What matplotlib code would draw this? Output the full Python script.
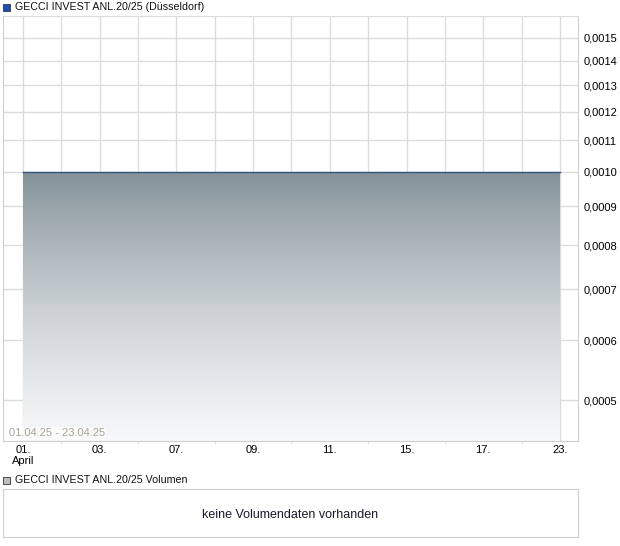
import numpy as np
import matplotlib
matplotlib.use("Agg")
import matplotlib.pyplot as plt
from matplotlib.ticker import FixedLocator, FuncFormatter, NullLocator

plt.rcParams['font.family'] = ['Liberation Sans', 'DejaVu Sans']

# trading days of April 2025 (Düsseldorf)
days = ["01.", "02.", "03.", "04.", "07.", "08.", "09.", "10.", "11.",
        "14.", "15.", "16.", "17.", "22.", "23."]
prices = [0.0010] * 15
ytick_vals = [0.0005, 0.0006, 0.0007, 0.0008, 0.0009, 0.0010,
              0.0011, 0.0012, 0.0013, 0.0014, 0.0015]
title = "GECCI INVEST ANL.20/25 (Düsseldorf)"
vol_title = "GECCI INVEST ANL.20/25 Volumen"
range_text = "01.04.25 - 23.04.25"

W, H = 620, 546
fig = plt.figure(figsize=(W / 100, H / 100), dpi=100)

grid_c = "#dcdcdc"
frame_c = "#cfcfcf"

# --- price chart ---
ax = fig.add_axes([3 / W, (H - 441) / H, 575 / W, 425 / H])
x = np.arange(len(days))
ax.set_yscale("log")
ymin, ymax = 0.000442, 0.001603
ax.set_ylim(ymin, ymax)
ax.set_xlim(-0.52, 14.47)

poly = ax.fill_between(x, prices, ymin, color="none", lw=0)
grad = np.linspace(0, 1, 256).reshape(-1, 1)
top_c = np.array([131, 145, 153]) / 255
bot_c = np.array([247, 248, 249]) / 255
img = top_c[None, None, :] * (1 - grad[:, :, None]) + bot_c[None, None, :] * grad[:, :, None]
im = ax.imshow(img, extent=[x[0], x[-1], ymin, max(prices)], aspect="auto",
               origin="upper", zorder=1, interpolation="bilinear")
im.set_clip_path(poly.get_paths()[0], transform=ax.transData)
ax.plot(x, prices, color="#34527e", lw=1.0, zorder=3)

ax.set_xticks(x, minor=True)
ax.set_xticks(x[::2])
labels = [d if i else d + "\nApril" for i, d in enumerate(days[::2])]
ax.set_xticklabels(labels, fontsize=8, linespacing=1.1)
ax.grid(True, which="both", axis="x", color=grid_c, lw=1, zorder=0)
ax.yaxis.set_major_locator(FixedLocator(ytick_vals))
ax.yaxis.set_minor_locator(NullLocator())
ax.yaxis.set_major_formatter(FuncFormatter(lambda v, p: f"{v:.4f}".replace(".", ",")))
ax.yaxis.tick_right()
ax.grid(True, which="major", axis="y", color=grid_c, lw=1, zorder=0)
ax.tick_params(axis="y", length=0, pad=4, labelsize=8)
ax.tick_params(axis="x", which="major", length=0, pad=3)
ax.tick_params(axis="x", which="minor", length=2, color=grid_c)
ax.set_axisbelow(True)
for s in ax.spines.values():
    s.set_color(frame_c)
ax.spines["top"].set_color(grid_c)

ax.text(0.01, 0.006, range_text, transform=ax.transAxes, fontsize=8,
        color="#a8a397", ha="left", va="bottom", zorder=4,
        bbox=dict(boxstyle="square,pad=0.1", fc="white", ec="none", alpha=0.6))

# legend markers / titles
fig.patches.append(plt.Rectangle((3 / W, (H - 11) / H), 7 / W, 7 / H,
                                 transform=fig.transFigure, fc="#1f4fb5", ec="#333333", lw=0.6))
fig.text(15 / W, (H - 7) / H, title, fontsize=7.7, va="center", ha="left", color="#111111")
fig.patches.append(plt.Rectangle((3 / W, (H - 484) / H), 7 / W, 7 / H,
                                 transform=fig.transFigure, fc="#bdbdbd", ec="#333333", lw=0.6))
fig.text(15 / W, (H - 480) / H, vol_title, fontsize=7.7, va="center", ha="left", color="#111111")

# --- volume box ---
vax = fig.add_axes([3 / W, 9 / H, 575 / W, 48 / H])
vax.set_xticks([])
vax.set_yticks([])
for s in vax.spines.values():
    s.set_color(frame_c)
vax.text(0.5, 0.45, "keine Volumendaten vorhanden", transform=vax.transAxes,
         ha="center", va="center", fontsize=9, color="#1a1a2a")

fig.savefig("out.png", dpi=100)
